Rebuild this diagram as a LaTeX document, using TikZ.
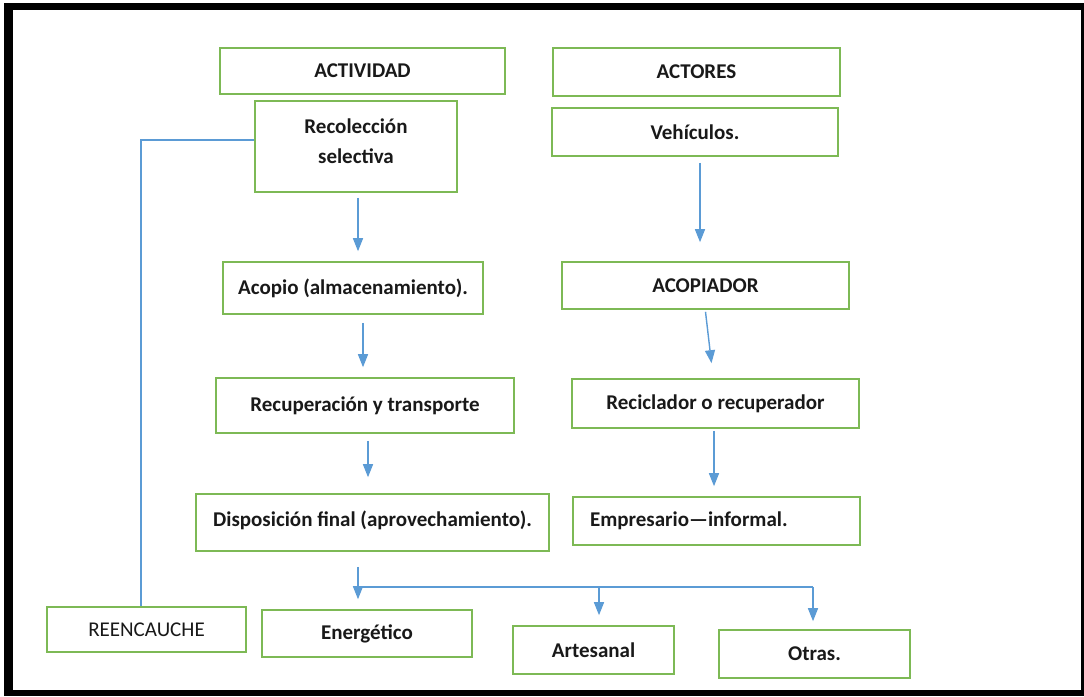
\documentclass[tikz,border=0pt]{standalone}
\usepackage{fontspec}
\setmainfont{Carlito}
\usetikzlibrary{calc,arrows.meta}
\definecolor{boxgreen}{HTML}{7DB955}
\definecolor{lineblue}{HTML}{5B9BD5}
\tikzset{
  box/.style={draw=boxgreen, line width=1.6pt, fill=white, inner sep=0pt, align=center,
    font=\bfseries\fontsize{21}{30}\selectfont, text=black!90},
  conn/.style={draw=lineblue, line width=1.4pt},
  arr/.style={conn, -{Triangle[width=10pt,length=13pt]}},
}
\begin{document}
\begin{tikzpicture}[x=1pt,y=-1pt]
  % frame
  \fill[white] (0,0) rectangle (1084,696);
  \fill[black] (4,3) rectangle (1084,696);
  \fill[white] (13,10) rectangle (1081,690);
  \useasboundingbox (0,0) rectangle (1084,696);

  % left column
  \node[box, minimum width=285, minimum height=46] (act) at (362.5,71) {ACTIVIDAD};
  \node[box, minimum width=202, minimum height=91] (rec) at (356,146.5) {Recolección\\selectiva\\[-20pt]};
  \node[box, minimum width=260, minimum height=52] (aco) at (353,288) {Acopio (almacenamiento).};
  \node[box, minimum width=298, minimum height=55] (recu) at (365,405.5) {Recuperación y transporte};
  \node[box, minimum width=353, minimum height=57] (disp) at (372.5,522.5) {Disposición final (aprovechamiento).\\[-22pt]};

  % right column
  \node[box, minimum width=287, minimum height=48] (actr) at (696.5,72) {ACTORES};
  \node[box, minimum width=286, minimum height=48] (veh) at (695,132) {Vehículos.};
  \node[box, minimum width=287, minimum height=47] (acp) at (705.5,285.5) {ACOPIADOR};
  \node[box, minimum width=287, minimum height=49] (reci) at (715.5,403.5) {Reciclador o recuperador};
  \node[box, minimum width=287, minimum height=48, inner xsep=17pt, text width=253pt, align=left] (emp) at (716.5,521) {Empresario—informal.};

  % bottom row
  \node[box, minimum width=199, minimum height=45, font=\fontsize{21}{25}\selectfont] (reen) at (146.5,629.5) {REENCAUCHE};
  \node[box, minimum width=210, minimum height=47] (ener) at (367,633.5) {Energético};
  \node[box, minimum width=161, minimum height=48] (art) at (593.5,650) {Artesanal};
  \node[box, minimum width=191, minimum height=48] (otr) at (814.5,654) {Otras.};

  % arrows left column
  \draw[arr] ($(rec.south)+(2,5)$) -- ($(rec.south |- aco.north)+(2,-10)$);
  \draw[arr] ($(aco.south)+(10,8)$) -- ($(aco.south |- recu.north)+(10,-10)$);
  \draw[arr] ($(recu.south)+(3,7)$) -- ($(recu.south |- disp.north)+(3,-16)$);

  % arrows right column
  \draw[arr] ($(veh.south)+(5,6)$) -- ($(veh.south |- acp.north)+(5,-19)$);
  \draw[arr] ($(acp.south)+(0,2)$) -- ($(reci.north)+(-4,-15)$);
  \draw[arr] ($(reci.south)+(-1.5,2)$) -- ($(reci.south |- emp.north)+(-1.5,-10)$);

  % branching from Disposición
  \coordinate (d0) at ($(disp.south)+(-14.5,15)$);
  \coordinate (br) at ($(disp.south)+(-14.5,35)$);
  \coordinate (ea) at ($(ener.north)+(0,-10)$);
  \coordinate (aa) at ($(art.north)+(5.5,-10)$);
  \coordinate (oa) at ($(otr.north)+(-1.5,-8)$);
  \draw[arr] (d0) -- (d0 |- ea);
  \draw[conn] (br) -- (br -| oa);
  \draw[arr] (br -| aa) -- (aa);
  \draw[arr] (br -| oa) -- (oa);

  % REENCAUCHE link
  \draw[conn] ($(rec.west)+(0,-6.5)$) -| ($(reen.north)+(-5.5,0)$);
\end{tikzpicture}
\end{document}
